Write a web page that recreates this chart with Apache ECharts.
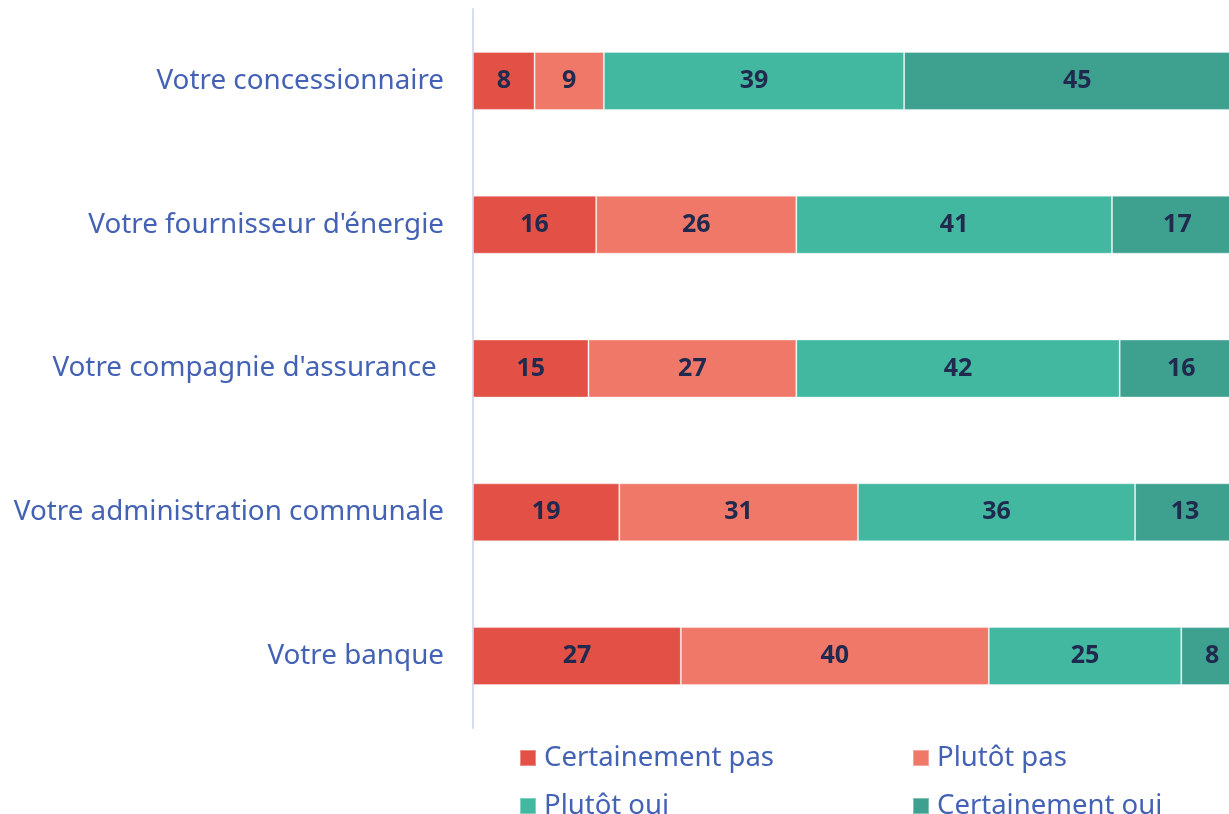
<!DOCTYPE html>
<html>
<head>
<meta charset="utf-8">
<script src="https://cdn.jsdelivr.net/npm/echarts@6/dist/echarts.min.js"></script>
<style>
  html, body { margin: 0; padding: 0; background: #fff; }
  #chart { width: 1229px; height: 814px; }
</style>
</head>
<body>
<div id="chart"></div>
<script>
// categories, top to bottom
const categories = [
  'Votre concessionnaire',
  "Votre fournisseur d'énergie",
  "Votre compagnie d'assurance ",
  'Votre administration communale',
  'Votre banque'
]
const certainementPas = [8, 16, 15, 19, 27]
const plutotPas = [9, 26, 27, 31, 40]
const plutotOui = [39, 41, 42, 36, 25]
const certainementOui = [45, 17, 16, 13, 8]

const seriesNames = ['Certainement pas', 'Plutôt pas', 'Plutôt oui', 'Certainement oui']
const colors = ['#E35146', '#EF7868', '#42B8A0', '#3EA08F']
const textBlue = '#4462B5'
const fontFam = '"Noto Sans", "Open Sans", sans-serif'

let myChart = echarts.init(document.getElementById('chart'))

function makeSeries(name, data, color) {
  return {
    name: name,
    type: 'bar',
    stack: 'total',
    barWidth: 58,
    clip: false,
    data: data,
    itemStyle: { color: color, borderColor: 'rgba(255,255,255,0.35)', borderWidth: 1 },
    label: {
      show: true,
      position: 'inside',
      color: '#1F2A4E',
      fontWeight: 'bold',
      fontSize: 25,
      fontFamily: fontFam
    }
  }
}

// legends placed one by one (2 x 2 layout)
const legendPos = [
  { left: 514, top: 739 },
  { left: 907, top: 739 },
  { left: 514, top: 787 },
  { left: 907, top: 787 }
]
const legends = seriesNames.map((n, i) => ({
  data: [n],
  left: legendPos[i].left,
  top: legendPos[i].top,
  itemWidth: 16,
  itemHeight: 16,
  itemGap: 0,
  icon: 'rect',
  selectedMode: false,
  textStyle: { color: textBlue, fontSize: 27.5, fontFamily: fontFam, padding: [0, 0, 0, 3] }
}))

let option = {
  animation: false,
  grid: { left: 473, right: 0, top: 9, bottom: 86, containLabel: false },
  legend: legends,
  xAxis: {
    type: 'value',
    min: 0,
    max: 98.2,
    show: false
  },
  yAxis: {
    type: 'category',
    inverse: true,
    data: categories,
    axisLine: { show: true, lineStyle: { color: '#D9DCF0', width: 2 } },
    axisTick: { show: false },
    axisLabel: {
      color: textBlue,
      fontSize: 27.8,
      fontFamily: fontFam,
      margin: 29
    }
  },
  series: [
    makeSeries(seriesNames[0], certainementPas, colors[0]),
    makeSeries(seriesNames[1], plutotPas, colors[1]),
    makeSeries(seriesNames[2], plutotOui, colors[2]),
    makeSeries(seriesNames[3], certainementOui, colors[3])
  ]
}

option && myChart.setOption(option)
</script>
</body>
</html>
